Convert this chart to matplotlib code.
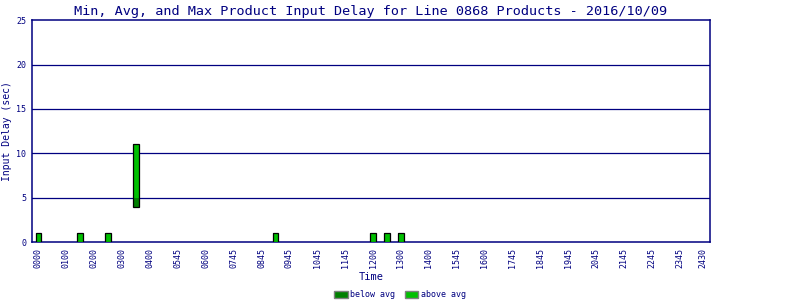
import numpy as np
import matplotlib
matplotlib.use("Agg")
import matplotlib.pyplot as plt
from matplotlib.patches import Patch

# -------------------------
# data
# -------------------------
tick_labels = ["0000", "0100", "0200", "0300", "0400", "0545", "0600", "0745",
               "0845", "0945", "1045", "1145", "1200", "1300", "1400", "1545",
               "1600", "1745", "1845", "1945", "2045", "2145", "2245", "2345",
               "2430"]
tick_pos = list(range(24)) + [23.84]

slot_x = [0, 1.5, 2.5, 3.5, 8.5, 12, 12.5, 13]
delay_min = [0, 0, 0, 4, 0, 0, 0, 0]
delay_avg = [0, 0, 0, 5, 0, 0, 0, 0]
delay_max = [1, 1, 1, 11, 1, 1, 1, 1]

navy = "#000080"
dark_green = "#008000"
light_green = "#00c000"
mono = "DejaVu Sans Mono"

# -------------------------
# figure
# -------------------------
fig = plt.figure(figsize=(8, 3), dpi=100)
ax = fig.add_axes([0.0396, 0.1933, 0.8479, 0.739])

x = np.array(slot_x)
lo = np.array(delay_min)
mid = np.array(delay_avg)
hi = np.array(delay_max)
w = 0.2

ax.bar(x, mid - lo, bottom=lo, width=w, color=dark_green, linewidth=0, zorder=3)
ax.bar(x, hi - mid, bottom=mid, width=w, color=light_green, linewidth=0, zorder=3)
ax.bar(x, hi - lo, bottom=lo, width=w, fill=False, edgecolor="black",
       linewidth=0.9, zorder=4)

for yv in [5, 10, 15, 20]:
    ax.axhline(yv, color=navy, linewidth=0.9, zorder=1)

ax.set_xlim(-0.24, 24.08)
ax.set_ylim(0, 25)
ax.set_yticks([0, 5, 10, 15, 20, 25])
ax.set_xticks(tick_pos)
ax.set_xticklabels(tick_labels, rotation=90, fontsize=6, family=mono, color=navy)
for lab in ax.get_yticklabels():
    lab.set_fontsize(6)
    lab.set_family(mono)
    lab.set_color(navy)
ax.tick_params(axis="both", length=0)
ax.tick_params(axis="x", pad=4.5)
ax.tick_params(axis="y", pad=4)

for s in ax.spines.values():
    s.set_color(navy)
    s.set_linewidth(1.1)

ax.set_title("Min, Avg, and Max Product Input Delay for Line 0868 Products - 2016/10/09",
             fontsize=9.7, family=mono, color=navy, pad=4)
ax.set_xlabel("Time", fontsize=7.5, family=mono, color=navy, labelpad=3)
ax.set_ylabel("Input Delay (sec)", fontsize=7, family=mono, color=navy, labelpad=3)

handles = [Patch(facecolor=dark_green, edgecolor="gray", label="below avg"),
           Patch(facecolor=light_green, edgecolor="gray", label="above avg")]
leg = fig.legend(handles=handles, loc="center", bbox_to_anchor=(0.5, 0.017), ncol=2,
                 frameon=False, handlelength=1.6, handleheight=1.0,
                 handletextpad=0.3, columnspacing=1.2, borderpad=0,
                 prop={"family": mono, "size": 6})
for t in leg.get_texts():
    t.set_color(navy)

plt.savefig("out.png", dpi=100)
